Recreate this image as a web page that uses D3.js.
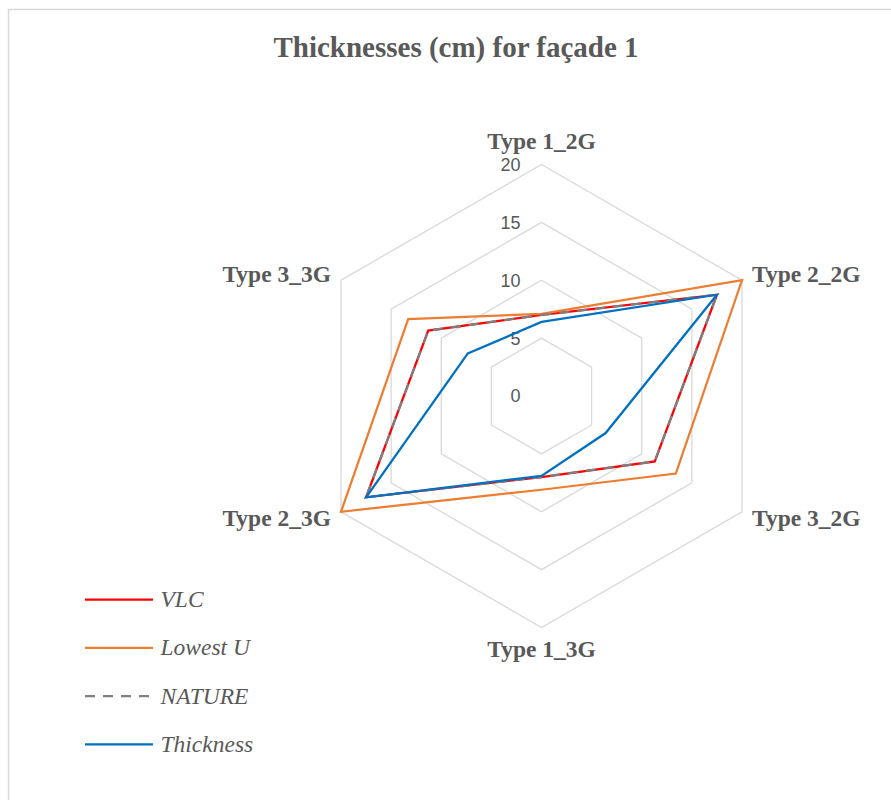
<!DOCTYPE html>
<html>
<head>
<meta charset="utf-8">
<script src="https://cdn.jsdelivr.net/npm/d3@7"></script>
<style>
  body { margin: 0; background: #fff; }
  svg { display: block; }
</style>
</head>
<body>
<svg width="891" height="800"></svg>
<script>
// data
const categories = ['Type 1_2G', 'Type 2_2G', 'Type 3_2G', 'Type 1_3G', 'Type 2_3G', 'Type 3_3G'];
const vlc       = [7, 17.5, 11.3, 7, 17.5, 11.3];
const lowestU   = [7.1, 20, 13.4, 8.1, 20, 13.3];
const nature    = [7, 17.5, 11.3, 7, 17.5, 11.3];
const thickness = [6.4, 17.5, 6.4, 6.9, 17.5, 7.35];
const seriesNames = ['VLC', 'Lowest U', 'NATURE', 'Thickness'];
const ticks = [0, 5, 10, 15, 20];

const svg = d3.select('svg');
const cx = 541.5, cy = 396, R = 231.5;
const grey = '#595959';

const rScale = d3.scaleLinear().domain([0, 20]).range([0, R]);
const angle = i => i * Math.PI * 2 / categories.length;
const pt = (i, v) => [cx + rScale(v) * Math.sin(angle(i)), cy - rScale(v) * Math.cos(angle(i))];

// chart frame
svg.append('rect')
  .attr('x', 8.5).attr('y', 9.5).attr('width', 920).attr('height', 820)
  .attr('fill', 'none').attr('stroke', '#d9d9d9').attr('stroke-width', 1.5);

svg.append('text')
  .attr('x', 456).attr('y', 57)
  .attr('text-anchor', 'middle')
  .attr('font-family', '"Liberation Serif", serif')
  .attr('font-weight', 'bold')
  .attr('font-size', 29)
  .attr('fill', grey)
  .text('Thicknesses (cm) for façade 1');

// grid hexagons
const line = d3.line().curve(d3.curveLinearClosed);
svg.append('g').selectAll('path')
  .data(ticks.filter(t => t > 0))
  .join('path')
    .attr('d', t => line(categories.map((c, i) => pt(i, t))))
    .attr('fill', 'none')
    .attr('stroke', '#d9d9d9')
    .attr('stroke-width', 1.3);

// tick labels
svg.append('g').selectAll('text')
  .data(ticks)
  .join('text')
    .attr('x', cx - 21)
    .attr('y', t => cy - rScale(t))
    .attr('dy', '0.36em')
    .attr('text-anchor', 'end')
    .attr('font-family', '"Liberation Sans", sans-serif')
    .attr('font-size', 18)
    .attr('fill', grey)
    .text(t => t);

// category labels
svg.append('g').selectAll('text')
  .data(categories)
  .join('text')
    .attr('x', (c, i) => {
      const p = pt(i, 20), s = Math.sin(angle(i));
      return Math.abs(s) < 0.01 ? p[0] : p[0] + (s > 0 ? 10 : -10);
    })
    .attr('y', (c, i) => {
      const p = pt(i, 20), co = Math.cos(angle(i));
      if (co > 0.99) return p[1] - 16;
      if (co < -0.99) return p[1] + 29;
      return co > 0 ? p[1] + 2 : p[1] + 14;
    })
    .attr('text-anchor', (c, i) => {
      const s = Math.sin(angle(i));
      return Math.abs(s) < 0.01 ? 'middle' : (s > 0 ? 'start' : 'end');
    })
    .attr('font-family', '"Liberation Serif", serif')
    .attr('font-weight', 'bold')
    .attr('font-size', 23.5)
    .attr('fill', grey)
    .text(c => c);

// series
const series = [
  {name: seriesNames[0], values: vlc, color: '#ff0000', dash: null},
  {name: seriesNames[1], values: lowestU, color: '#ed7d31', dash: null},
  {name: seriesNames[2], values: nature, color: '#7f7f7f', dash: '10,8'},
  {name: seriesNames[3], values: thickness, color: '#0070c0', dash: null}
];

svg.append('g').selectAll('path')
  .data(series)
  .join('path')
    .attr('d', s => line(s.values.map((v, i) => pt(i, v))))
    .attr('fill', 'none')
    .attr('stroke', s => s.color)
    .attr('stroke-width', 2.25)
    .attr('stroke-linejoin', 'miter')
    .attr('stroke-dasharray', s => s.dash);

// legend
const legend = svg.append('g').selectAll('g')
  .data(series)
  .join('g')
    .attr('transform', (s, i) => `translate(85, ${599.5 + i * 48.3})`);
legend.append('line')
  .attr('x1', 0).attr('x2', 68)
  .attr('stroke', s => s.color)
  .attr('stroke-width', 2.25)
  .attr('stroke-dasharray', s => s.dash);
legend.append('text')
  .attr('x', 75.5).attr('y', 7.5)
  .attr('font-family', '"Liberation Serif", serif')
  .attr('font-style', 'italic')
  .attr('font-size', 23.5)
  .attr('fill', grey)
  .text(s => s.name);
</script>
</body>
</html>
